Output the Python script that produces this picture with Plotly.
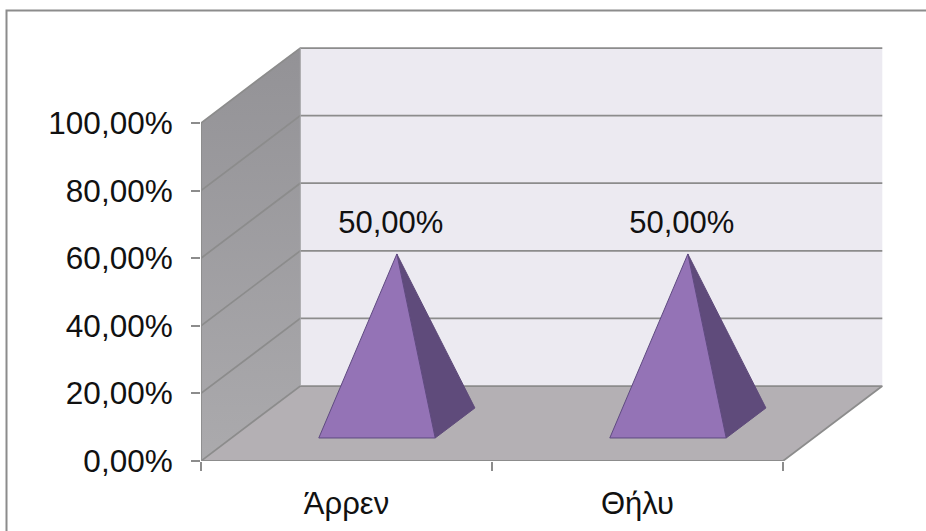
import plotly.graph_objects as go

# Chart data
CATEGORIES = ["Άρρεν", "Θήλυ"]
VALUES = [50.0, 50.0]
Y_TICKS = [0, 20, 40, 60, 80, 100]
Y_TICK_LABELS = ["0,00%", "20,00%", "40,00%", "60,00%", "80,00%", "100,00%"]

# Canvas and plot frame, in pixels
WIDTH, HEIGHT = 926, 531
LEFT, BOTTOM, TOP = 201, 461, 30
X_UNIT = 291.0       # pixels per category
Y_UNIT = 3.38        # pixels per percentage point
DEPTH_X = 99.3 / X_UNIT   # oblique shift of the back plane, in data units
DEPTH_Y = 75.0 / Y_UNIT

# Pyramid footprint within a category slot
BAR_WIDTH = 0.40
BAR_FRONT, BAR_BACK = 0.307, 0.707

GRID = "#8C8C8C"
FONT = "Liberation Sans"
N = len(CATEGORIES)


def proj(x, y, d=0.0):
    """Oblique projection of (category position, value, depth) onto the axes."""
    return x + d * DEPTH_X, y + d * DEPTH_Y


def polygon(points, **kw):
    xs, ys = zip(*(proj(*p) for p in points + points[:1]))
    return go.Scatter(x=xs, y=ys, mode="lines", fill="toself", hoverinfo="skip", **kw)


def polyline(points, color=GRID, width=1.75):
    xs, ys = zip(*(proj(*p) for p in points))
    return go.Scatter(x=xs, y=ys, mode="lines", hoverinfo="skip",
                      line=dict(color=color, width=width))


fig = go.Figure()
ymax = Y_TICKS[-1]

# Walls and floor
fig.add_trace(polygon([(0, 0, 1), (N, 0, 1), (N, ymax, 1), (0, ymax, 1)],
                      fillcolor="#ECEAF1", line=dict(width=0)))
fig.add_trace(polygon([(0, 0, 0), (0, 0, 1), (0, ymax, 1), (0, ymax, 0)],
                      line=dict(width=0),
                      fillgradient=dict(type="vertical",
                                        colorscale=[[0, "#ABAAAD"], [1, "#939296"]])))
fig.add_trace(polygon([(0, 0, 0), (N, 0, 0), (N, 0, 1), (0, 0, 1)],
                      fillcolor="#B4B0B4", line=dict(width=0)))

# Gridlines wrap around the side wall and back wall
for tick in Y_TICKS:
    if tick > 0:
        fig.add_trace(polyline([(0, tick, 0), (0, tick, 1), (N, tick, 1)]))
fig.add_trace(polyline([(0, 0, 0), (0, 0, 1), (N, 0, 1), (N, 0, 0)]))
fig.add_trace(polyline([(0, 0, 1), (0, ymax, 1)], color="#A5A5A8", width=1))

# Axis lines
fig.add_trace(polyline([(0, 0, 0), (0, ymax, 0)]))
fig.add_trace(polyline([(0, 0, 0), (N, 0, 0)], width=2))

# Pyramids
for i, value in enumerate(VALUES):
    cx = i + 0.5
    x0, x1 = cx - BAR_WIDTH / 2, cx + BAR_WIDTH / 2
    depth = (BAR_FRONT + BAR_BACK) / 2
    # the apex rises by the value from the floor point beneath it
    apex_pt = (cx + depth * DEPTH_X, value + depth * DEPTH_Y, 0)
    fig.add_trace(polygon([(x1, 0, BAR_FRONT), (x1, 0, BAR_BACK), apex_pt],
                          fillcolor="#5F4B7B", line=dict(color="#5F4B7B", width=1)))
    fig.add_trace(polygon([(x0, 0, BAR_FRONT), (x1, 0, BAR_FRONT), apex_pt],
                          fillcolor="#9473B6", line=dict(color="#5F4A80", width=1)))
    label_x = apex_pt[0] - 6 / X_UNIT
    fig.add_trace(go.Scatter(
        x=[label_x], y=[apex_pt[1] + 4.0], mode="text",
        text=[f"{value:.2f}".replace(".", ",") + "%"],
        textposition="top center", hoverinfo="skip",
        textfont=dict(family=FONT, size=31, color="#111111")))

# Outer chart frame runs along the top and left edges
frame_x = (6.5 - LEFT) / (WIDTH - LEFT)
frame_y = 1 + (TOP - 10.5) / (BOTTOM - TOP)
fig.add_shape(type="path", xref="paper", yref="paper",
              path=f"M {frame_x} -0.2 L {frame_x} {frame_y} L 1.0 {frame_y}",
              line=dict(color=GRID, width=2), layer="below")

fig.update_layout(
    width=WIDTH, height=HEIGHT, showlegend=False,
    margin=dict(l=LEFT, r=0, t=TOP, b=HEIGHT - BOTTOM, pad=0),
    paper_bgcolor="white", plot_bgcolor="white",
    font=dict(family=FONT, size=31, color="#111111"),
    xaxis=dict(
        range=[0, (WIDTH - LEFT) / X_UNIT], showgrid=False, zeroline=False, showline=False,
        tickmode="array", tickvals=[i + 0.5 for i in range(N)], ticktext=CATEGORIES,
        ticks="", ticklabelstandoff=21,
        minor=dict(tickmode="array", tickvals=list(range(N + 1)), ticks="outside",
                   ticklen=9, tickwidth=1.75, tickcolor=GRID, showgrid=False),
    ),
    yaxis=dict(
        range=[0, (BOTTOM - TOP) / Y_UNIT], showgrid=False, zeroline=False, showline=False,
        tickmode="array", tickvals=Y_TICKS, ticktext=Y_TICK_LABELS,
        tickfont=dict(family=FONT, size=31.5, color="#111111"),
        ticks="outside", ticklen=9, tickwidth=1.75, tickcolor=GRID,
        ticklabelstandoff=12,
    ),
)

fig.write_html("out.html")
